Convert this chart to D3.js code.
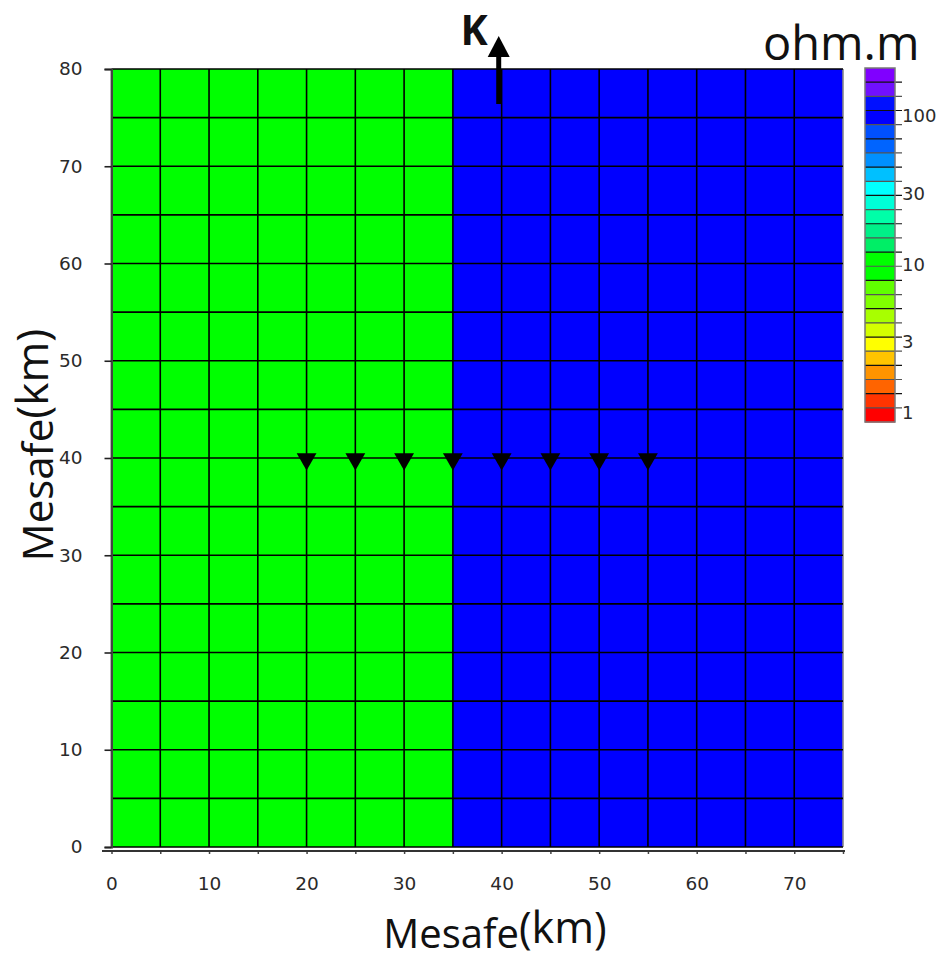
<!DOCTYPE html>
<html>
<head>
<meta charset="utf-8">
<script src="https://cdn.jsdelivr.net/npm/d3@7"></script>
<style>
  html, body { margin: 0; padding: 0; background: #fff; }
  svg { display: block; }
</style>
</head>
<body>
<script>
// ---- data ----
const blockXStart = [0, 35];
const blockXEnd = [35, 75];
const blockYStart = [0, 0];
const blockYEnd = [80, 80];
const blockRho = [10, 100];             // ohm.m
const gridStepKm = 5;
const xTicksLabelled = [0, 10, 20, 30, 40, 50, 60, 70];
const yTicks = [0, 10, 20, 30, 40, 50, 60, 70, 80];
const stationsX = [20, 25, 30, 35, 40, 45, 50, 55];
const stationsY = 40;
const arrowX = 39.7;
const colorBands = [ // top (high rho) to bottom (low rho)
  "#8000ff", "#7010ff", "#0010ff", "#0000ff", "#0050ff", "#0064ff", "#0090ff", "#00c0ff",
  "#00ffff", "#00ffd8", "#00ffa8", "#00f088", "#00ee66", "#00ff00", "#00ff00", "#60ff00",
  "#80ff00", "#a8ff00", "#d4ff00", "#ffff00", "#ffc400", "#ff9400", "#ff6400", "#ff3400",
  "#ff0000"
];
const cbLabels = [1, 3, 10, 30, 100];
const cbDomain = [0.86, 210];

const W = 944, H = 963;
const svg = d3.select("body").append("svg").attr("width", W).attr("height", H);

const x = d3.scaleLinear().domain([0, 75]).range([111.5, 843]);
const y = d3.scaleLinear().domain([0, 80]).range([847, 69]);

// colorbar scales
const cbTop = 68, cbBottom = 422, cbLeft = 865, cbRight = 895;
const cbY = d3.scaleLog().domain(cbDomain).range([cbBottom, cbTop]);
const bandIdx = d3.scaleLinear().domain([cbTop, cbBottom]).range([0, colorBands.length]);
function rhoColor(v) {
  const i = Math.max(0, Math.min(colorBands.length - 1, Math.floor(bandIdx(cbY(v)))));
  return colorBands[i];
}

// ---- blocks ----
svg.append("g").selectAll("rect").data(blockRho).join("rect")
  .attr("x", (d, i) => x(blockXStart[i]))
  .attr("y", (d, i) => y(blockYEnd[i]))
  .attr("width", (d, i) => x(blockXEnd[i]) - x(blockXStart[i]))
  .attr("height", (d, i) => y(blockYStart[i]) - y(blockYEnd[i]))
  .attr("fill", d => rhoColor(d));

// ---- grid ----
const gx = d3.range(0, 75 + 0.001, gridStepKm);
const gy = d3.range(0, 80 + 0.001, gridStepKm);
const grid = svg.append("g").attr("stroke", "#000").attr("stroke-width", 1.6);
grid.selectAll("line.v").data(gx).join("line").attr("class", "v")
  .attr("x1", d => x(d)).attr("x2", d => x(d)).attr("y1", y(80)).attr("y2", y(0))
  .attr("stroke", d => d === 75 ? "#888" : "#000");
grid.selectAll("line.h").data(gy).join("line").attr("class", "h")
  .attr("x1", x(0)).attr("x2", x(75)).attr("y1", d => y(d)).attr("y2", d => y(d));

// ---- y axis ----
const tickFont = "DejaVu Sans, Verdana, sans-serif";
const yAxis = svg.append("g").attr("transform", `translate(${x(0)},0)`)
  .call(d3.axisLeft(y).tickValues(yTicks).tickSize(7).tickPadding(22).tickFormat(d3.format("d")));
yAxis.select(".domain").attr("stroke", "#444").attr("stroke-width", 2);
yAxis.selectAll(".tick line").attr("stroke", "#222").attr("stroke-width", 1.6);
yAxis.selectAll("text").attr("font-family", tickFont)
  .attr("font-size", 18.5).attr("fill", "#2a2a2a");

// ---- x axis ----
const xAxisY = 851;
const xAxis = svg.append("g").attr("transform", `translate(0,${xAxisY})`)
  .call(d3.axisBottom(x).tickValues(gx).tickSize(3).tickPadding(23)
    .tickFormat(d => xTicksLabelled.includes(d) ? d3.format("d")(d) : ""));
xAxis.select(".domain").remove();
xAxis.append("line").attr("x1", 102).attr("x2", 845).attr("y1", 0).attr("y2", 0)
  .attr("stroke", "#333").attr("stroke-width", 2);
xAxis.selectAll(".tick line").attr("stroke", "#444").attr("stroke-width", 1.5);
xAxis.selectAll("text").attr("font-family", tickFont)
  .attr("font-size", 18.5).attr("fill", "#2a2a2a");

// ---- stations (triangles) ----
const tri = d3.symbol().type(d3.symbolTriangle).size(170);
svg.append("g").selectAll("path").data(stationsX).join("path")
  .attr("d", tri)
  .attr("transform", d => `translate(${x(d)},${y(stationsY) + 1}) rotate(180)`)
  .attr("fill", "#000");

// ---- K arrow ----
const ax = x(arrowX);
svg.append("line").attr("x1", ax).attr("x2", ax).attr("y1", 104).attr("y2", 52)
  .attr("stroke", "#000").attr("stroke-width", 5);
svg.append("path")
  .attr("d", `M${ax - 11},${57} L${ax},${36} L${ax + 11},${57} Z`)
  .attr("fill", "#000");
svg.append("text").attr("x", 474).attr("y", 45).attr("text-anchor", "middle")
  .attr("font-family", "Open Sans, sans-serif").attr("font-weight", "bold")
  .attr("font-size", 41).attr("fill", "#111").text("K");

// ---- colorbar ----
const bandH = (cbBottom - cbTop) / colorBands.length;
const cb = svg.append("g");
cb.selectAll("rect").data(colorBands).join("rect")
  .attr("x", cbLeft).attr("y", (d, i) => cbTop + i * bandH)
  .attr("width", cbRight - cbLeft).attr("height", bandH + 0.5)
  .attr("fill", d => d);
cb.selectAll("line.sep").data(d3.range(1, colorBands.length)).join("line").attr("class", "sep")
  .attr("x1", cbLeft).attr("x2", cbRight + 7)
  .attr("y1", i => cbTop + i * bandH).attr("y2", i => cbTop + i * bandH)
  .attr("stroke", i => i % 2 ? "#111" : "#555").attr("stroke-width", 1.2);
cb.append("rect").attr("x", cbLeft).attr("y", cbTop).attr("width", cbRight - cbLeft)
  .attr("height", cbBottom - cbTop).attr("fill", "none").attr("stroke", "#777").attr("stroke-width", 1.5);
cb.selectAll("text").data(cbLabels).join("text")
  .attr("x", 902).attr("y", d => cbY(d)).attr("dy", "0.36em")
  .attr("font-family", tickFont).attr("font-size", 18)
  .attr("fill", "#2a2a2a").text(d => d);
svg.append("text").attr("x", 763).attr("y", 60)
  .attr("font-family", "Open Sans, sans-serif").attr("font-size", 47)
  .attr("fill", "#111").text("ohm.m");

// ---- axis titles ----
const xt = svg.append("text").attr("x", 495).attr("y", 948).attr("text-anchor", "middle")
  .attr("font-family", "Open Sans, sans-serif").attr("fill", "#111");
xt.append("tspan").attr("font-size", 40).text("Mesafe");
xt.append("tspan").attr("font-size", 43).attr("dy", -5).text("(km)");

const yt = svg.append("text").attr("transform", "translate(53,445) rotate(-90)")
  .attr("text-anchor", "middle").attr("font-family", "Open Sans, sans-serif").attr("fill", "#111");
yt.append("tspan").attr("font-size", 42).text("Mesafe");
yt.append("tspan").attr("font-size", 44).attr("dy", -5).text("(km)");
</script>
</body>
</html>
